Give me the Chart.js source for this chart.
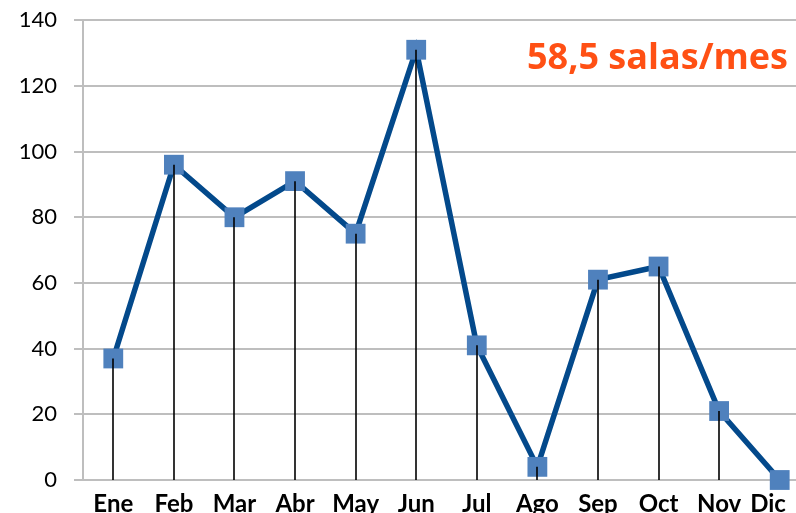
<!DOCTYPE html>
<html>
<head>
<meta charset="utf-8">
<script src="https://cdn.jsdelivr.net/npm/chart.js@4/dist/chart.umd.min.js"></script>
<style>
  html, body { margin: 0; padding: 0; background: #fff; overflow: hidden; }
  #wrap { position: relative; width: 824px; height: 513px; overflow: hidden; }
  #salasChart { position: absolute; left: 0; top: -10px; }
  #nota { position: absolute; left: 527px; top: 38px; font: bold 36px/36px "Open Sans", Lato, sans-serif; color: #FF5014; white-space: nowrap; }
</style>
</head>
<body>
<div id="wrap">
  <canvas id="salasChart" width="824" height="530"></canvas>
  <div id="nota">58,5 salas/mes</div>
</div>
<script>
// datos
const meses = ['Ene', 'Feb', 'Mar', 'Abr', 'May', 'Jun', 'Jul', 'Ago', 'Sep', 'Oct', 'Nov', 'Dic'];
const salas = [37, 96, 80, 91, 75, 131, 41, 4, 61, 65, 21, 0];
const yTicks = [0, 20, 40, 60, 80, 100, 120, 140];

// lineas verticales desde cada punto hasta el eje
const dropLines = {
    id: 'dropLines',
    afterDatasetsDraw(chart) {
        const ctx = chart.ctx;
        const meta = chart.getDatasetMeta(0);
        const y0 = chart.scales.y.getPixelForValue(0);
        ctx.save();
        ctx.strokeStyle = '#000';
        ctx.lineWidth = 1.6;
        meta.data.forEach(pt => {
            ctx.beginPath();
            ctx.moveTo(Math.round(pt.x), pt.y);
            ctx.lineTo(Math.round(pt.x), y0);
            ctx.stroke();
        });
        ctx.restore();
    }
};

new Chart(document.getElementById('salasChart'), {
    type: 'line',
    data: {
        labels: meses,
        datasets: [{
            data: salas,
            borderColor: '#03498B',
            borderWidth: 5.5,
            pointStyle: 'rect',
            pointRadius: 14,
            pointBackgroundColor: '#4F81BD',
            pointBorderColor: '#4F81BD',
            pointBorderWidth: 0,
            tension: 0,
            clip: false
        }]
    },
    options: {
        responsive: false,
        animation: false,
        layout: { padding: { top: 0, right: 0, bottom: 0, left: 0 } },
        plugins: { legend: { display: false }, tooltip: { enabled: false } },
        scales: {
            x: {
                offset: true,
                grid: { display: false },
                border: { color: '#BEBEBE', width: 2 },
                ticks: {
                    color: '#000',
                    padding: 2,
                    font: { family: 'Lato', size: 24, weight: 'bold' },
                    maxRotation: 0,
                    autoSkip: false,
                    // la ultima etiqueta queda un poco a la izquierda, como en el original
                    callback(value, index) {
                        const txt = meses[index];
                        return index === meses.length - 1 ? txt + '    ' : txt;
                    }
                },
                afterFit(scale) { scale.height = 40; }
            },
            y: {
                min: 0,
                max: 140,
                afterBuildTicks(scale) { scale.ticks = yTicks.map(v => ({ value: v })); },
                grid: { color: '#BEBEBE', lineWidth: 2, tickLength: 9 },
                border: { color: '#BEBEBE', width: 2 },
                ticks: {
                    color: '#000',
                    padding: 17,
                    font: { family: 'Lato', size: 22 }
                },
                afterFit(scale) { scale.width = 83; }
            }
        }
    },
    plugins: [dropLines]
});
</script>
</body>
</html>
